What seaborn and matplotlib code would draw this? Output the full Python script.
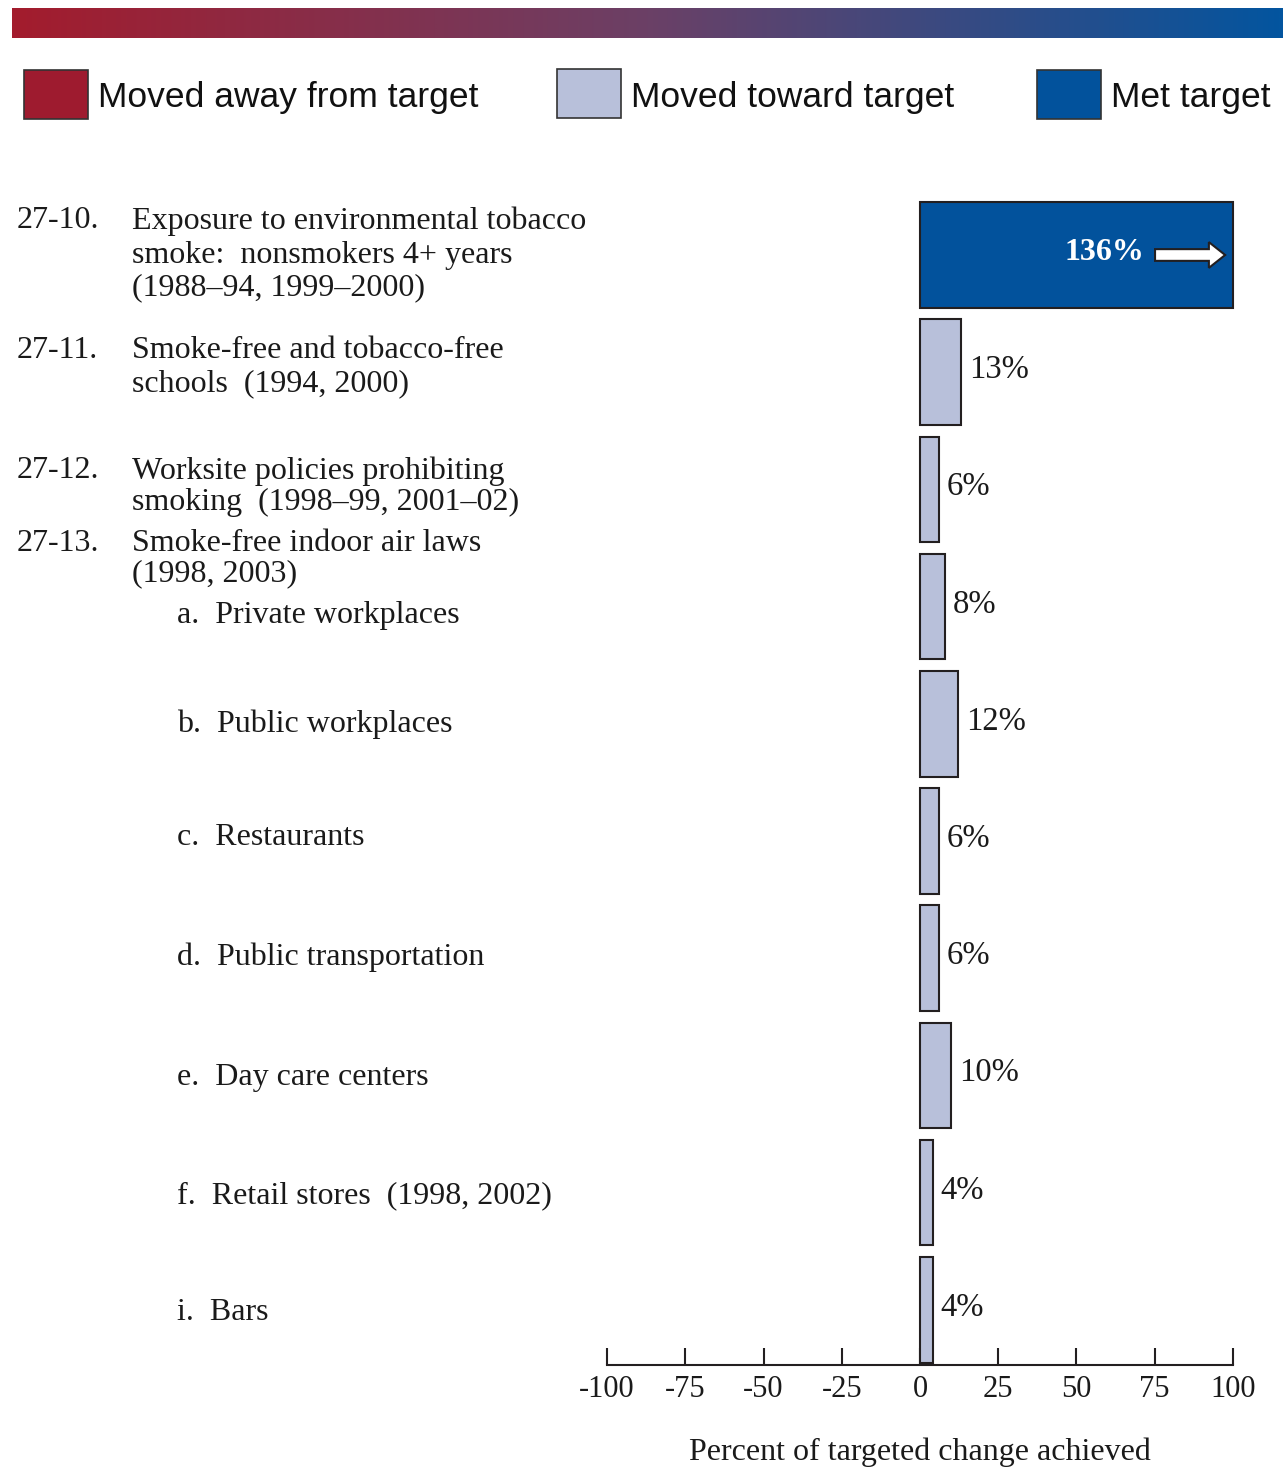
import matplotlib
matplotlib.use("Agg")
import matplotlib.pyplot as plt
import seaborn as sns
import numpy as np
import pandas as pd
from matplotlib.colors import LinearSegmentedColormap
from matplotlib.patches import Rectangle, FancyArrow

# ---------------- data ----------------
items = ["27-10", "27-11", "27-12", "27-13a", "27-13b", "27-13c",
         "27-13d", "27-13e", "27-13f", "27-13i"]
values = [136, 13, 6, 8, 12, 6, 6, 10, 4, 4]
status = ["Met target", "Moved toward target", "Moved toward target",
          "Moved toward target", "Moved toward target", "Moved toward target",
          "Moved toward target", "Moved toward target", "Moved toward target",
          "Moved toward target"]
legend_labels = ["Moved away from target", "Moved toward target", "Met target"]
label_lines = ["27-10.", "Exposure to environmental tobacco",
               "smoke:  nonsmokers 4+ years", "(1988–94, 1999–2000)",
               "27-11.", "Smoke-free and tobacco-free", "schools  (1994, 2000)",
               "27-12.", "Worksite policies prohibiting",
               "smoking  (1998–99, 2001–02)",
               "27-13.", "Smoke-free indoor air laws", "(1998, 2003)",
               "a.  Private workplaces", "b.  Public workplaces",
               "c.  Restaurants", "d.  Public transportation",
               "e.  Day care centers", "f.  Retail stores  (1998, 2002)",
               "i.  Bars"]
xticks = [-100, -75, -50, -25, 0, 25, 50, 75, 100]
xlabel = "Percent of targeted change achieved"
axis_max = 100

# ---------------- style ----------------
RED = "#9e1b2f"
LIGHT = "#b8c0da"
BLUE = "#02529c"
EDGE = "#231f20"
palette = {"Moved away from target": RED, "Moved toward target": LIGHT,
           "Met target": BLUE}
SERIF = ["Liberation Serif", "DejaVu Serif"]
SANS = ["Liberation Sans", "DejaVu Sans"]

sns.set_theme(style="white")
plt.rcParams["font.family"] = SERIF

W, H = 1286, 1467
fig = plt.figure(figsize=(W / 100, H / 100), dpi=100)


def fx(px):
    return px / W


def fy(py):
    return 1 - py / H


# gradient band on top
gax = fig.add_axes([fx(12), fy(38), (1283 - 12) / W, 30 / H])
cmap = LinearSegmentedColormap.from_list("band", ["#a31c2d", "#6b4066", "#03559f"])
gax.imshow(np.linspace(0, 1, 512)[None, :], aspect="auto", cmap=cmap)
gax.set_axis_off()

# legend
leg_boxes = [(24, 70), (557, 69), (1037, 70)]
leg_text_x = [98, 631, 1111]
for (bx, by), tx, lab in zip(leg_boxes, leg_text_x, legend_labels):
    fig.patches.append(Rectangle((fx(bx), fy(by + 49)), 64 / W, 49 / H,
                                 transform=fig.transFigure,
                                 facecolor=palette[lab], edgecolor="#333333",
                                 linewidth=1.2))
    fig.text(fx(tx), fy(97), lab, family=SANS, fontsize=25.5,
             ha="left", va="center", color="#111111")

# main axes
ax = fig.add_axes([603.9 / W, fy(1365), 632.2 / W, (1365 - 190) / H])
df = pd.DataFrame({"item": items,
                   "shown": [min(v, axis_max) for v in values],
                   "status": status})
sns.barplot(data=df, x="shown", y="item", hue="status", palette=palette,
            orient="h", dodge=False, width=0.9, edgecolor=EDGE, saturation=1,
            linewidth=1.5, legend=False, ax=ax)

ax.set_xlim(-101, 101)
ax.set_ylim(9.471, -0.5546)
for s in ["left", "top", "right"]:
    ax.spines[s].set_visible(False)
ax.spines["bottom"].set_bounds(-100, 100)
ax.spines["bottom"].set_linewidth(1.5)
ax.spines["bottom"].set_color(EDGE)
ax.set_xticks(xticks)
ax.set_xticklabels([str(t) for t in xticks])
ax.set_xticks([0], minor=True)
ax.tick_params(axis="x", which="major", direction="in", length=12, width=1.5,
               color=EDGE, labelsize=22, pad=7, bottom=True, labelcolor="#1a1a1a")
ax.tick_params(axis="x", which="minor", direction="out", length=9, width=1.5,
               color=EDGE, bottom=True)
ax.set_yticks([])
ax.set_xlabel("")
ax.set_ylabel("")
ax.patch.set_alpha(0)
for lbl in ax.get_xticklabels():
    lbl.set_family(SERIF)

# value labels
for i, (v, st) in enumerate(zip(values, status)):
    if v > axis_max:
        ax.text(71.6, i - 0.02, f"{v}%", color="white", fontweight="bold",
                fontsize=23, ha="right", va="center", family=SERIF)
        ax.add_patch(FancyArrow(75.1, i, 22.4, 0, width=0.1, head_width=0.22,
                                head_length=5.2, length_includes_head=True,
                                facecolor="white", edgecolor=EDGE,
                                linewidth=1.5, zorder=5))
    else:
        ax.text(v + 2.6, i - 0.02, f"{v}%", fontsize=23.5, ha="left",
                va="center", color="#1a1a1a", family=SERIF)

# left-hand labels
label_pos = [(17, 219), (132, 219), (132, 253), (132, 286),
             (17, 348), (132, 348), (132, 382),
             (17, 469), (132, 469), (132, 500),
             (17, 542), (132, 542), (132, 572),
             (177, 613), (177, 722), (177, 836), (177, 955),
             (177, 1076), (177, 1194), (177, 1310)]
for (px, py), txt in zip(label_pos, label_lines):
    fig.text(fx(px), fy(py + 2), txt, fontsize=23, ha="left", va="center",
             color="#1a1a1a", family=SERIF)

fig.text(fx(920), fy(1452), xlabel, fontsize=23, ha="center", va="center",
         color="#1a1a1a", family=SERIF)

fig.savefig("out.png", dpi=100)
